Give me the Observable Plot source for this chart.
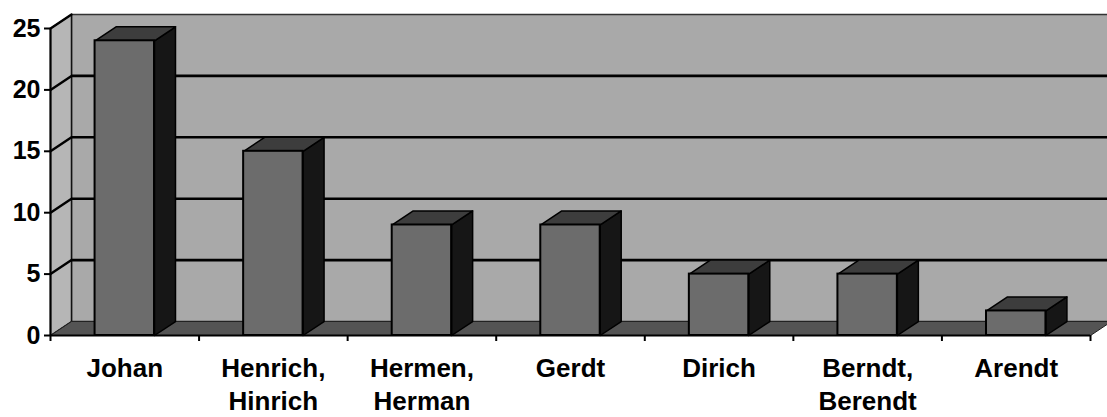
<!DOCTYPE html>
<html>
<head>
<meta charset="utf-8">
<script src="https://cdn.jsdelivr.net/npm/d3@7"></script>
<script src="https://cdn.jsdelivr.net/npm/@observablehq/plot@0.6"></script>
<style>
  html, body { margin: 0; padding: 0; background: #fff; overflow: hidden; }
  #chart svg { display: block; }
</style>
</head>
<body>
<div id="chart"></div>
<script>
// ---- data ----
const categories = ["Johan", "Henrich,\nHinrich", "Hermen,\nHerman", "Gerdt", "Dirich", "Berndt,\nBerendt", "Arendt"];
const counts = [24, 15, 9, 9, 5, 5, 2];
const yTicks = [0, 5, 10, 15, 20, 25];
const gridValues = [5, 10, 15, 20, 25];

// ---- 3D look parameters (in data units) ----
const depthX = 0.1413;   // horizontal depth offset
const depthY = 1.14;     // vertical depth offset
const yMax = 25;
const n = categories.length;
const barLeft = 0.30, barRight = 0.70;

function poly(id, pts) {
  const out = pts.map(([x, y]) => ({id, x, y}));
  out.push({id, x: pts[0][0], y: pts[0][1]});
  return out;
}

const sideWall = poly("side", [[0, 0], [0, yMax], [depthX, yMax + depthY], [depthX, depthY]]);
const floor = poly("floor", [[0, 0], [n, 0], [n + depthX, depthY], [depthX, depthY]]);
const backWall = poly("back", [[depthX, depthY], [depthX, yMax + depthY], [n + 1, yMax + depthY], [n + 1, depthY]]);

const sideGrid = gridValues.flatMap(v => [{id: v, x: 0, y: v}, {id: v, x: depthX, y: v + depthY}]);

const barSides = counts.flatMap((v, i) => poly("s" + i, [
  [i + barRight, 0], [i + barRight, v], [i + barRight + depthX, v + depthY], [i + barRight + depthX, depthY]
]));
const barTops = counts.flatMap((v, i) => poly("t" + i, [
  [i + barLeft, v], [i + barRight, v], [i + barRight + depthX, v + depthY], [i + barLeft + depthX, v + depthY]
]));
const barFronts = counts.map((v, i) => ({x1: i + barLeft, x2: i + barRight, y: v}));

const font = "'Liberation Sans', Arial, Helvetica, sans-serif";

const chart = Plot.plot({
  width: 1107,
  height: 417,
  marginLeft: 50,
  marginRight: 17,
  marginTop: 28,
  marginBottom: 82,
  style: {fontFamily: font, background: "#fff", overflow: "hidden"},
  x: {domain: [0, n], range: [50, 1090], axis: null},
  y: {domain: [0, yMax], range: [335, 28], axis: null},
  marks: [
    // back wall
    Plot.line(backWall, {x: "x", y: "y", z: "id", fill: "#a9a9a9", stroke: "#333", strokeWidth: 1.5}),
    // side wall
    Plot.line(sideWall, {x: "x", y: "y", z: "id", fill: "#b6b6b6", stroke: "#111", strokeWidth: 1.5}),
    // grid on back wall
    Plot.ruleY(gridValues.slice(0, -1), {y: d => d + depthY, x1: depthX, x2: n + 1, stroke: "#000", strokeWidth: 2.6}),
    // grid on side wall
    Plot.line(sideGrid, {x: "x", y: "y", z: "id", stroke: "#000", strokeWidth: 2.4}),
    // floor
    Plot.line(floor, {x: "x", y: "y", z: "id", fill: "#545454", stroke: "#222", strokeWidth: 1}),
    // bars
    Plot.line(barSides, {x: "x", y: "y", z: "id", fill: "#161616", stroke: "#000", strokeWidth: 1.5}),
    Plot.line(barTops, {x: "x", y: "y", z: "id", fill: "#3d3d3d", stroke: "#000", strokeWidth: 1.5}),
    Plot.rectY(barFronts, {x1: "x1", x2: "x2", y1: 0, y2: "y", fill: "#6c6c6c", stroke: "#000", strokeWidth: 2}),
    // axes lines
    Plot.ruleX([0], {y1: 0, y2: yMax, stroke: "#000", strokeWidth: 2}),
    Plot.ruleY([0], {x1: 0, x2: n, stroke: "#000", strokeWidth: 2}),
    Plot.axisY({ticks: yTicks, tickSize: 6, tickPadding: 4, fontSize: 25, fontWeight: "bold", label: null, strokeWidth: 2, color: "#000"}),
    Plot.axisX({ticks: d3.range(n + 1), tickSize: 6, tickFormat: () => "", label: null, strokeWidth: 2, color: "#000"}),
    // category labels
    Plot.text(categories, {
      x: (d, i) => i + 0.5, y: 0, text: d => d,
      lineAnchor: "top", dy: 17, fontSize: 26, fontWeight: "bold", lineHeight: 1.3, fill: "#000"
    })
  ]
});
document.getElementById("chart").appendChild(chart);
</script>
</body>
</html>
